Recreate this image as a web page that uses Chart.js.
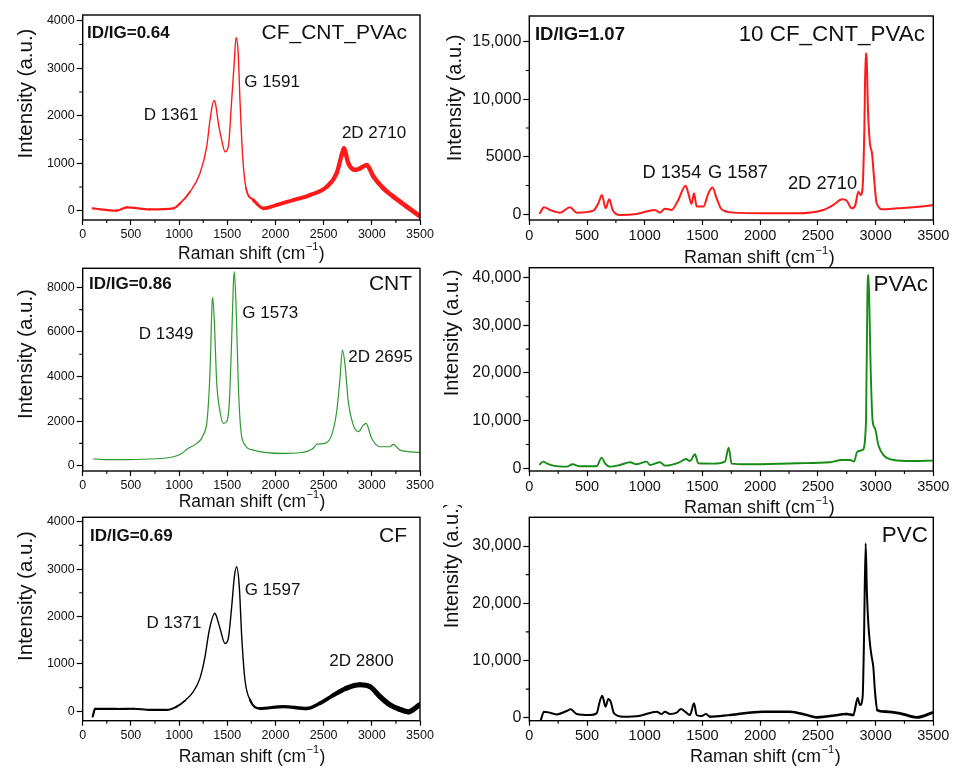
<!DOCTYPE html>
<html>
<head>
<meta charset="utf-8">
<script src="https://cdn.jsdelivr.net/npm/chart.js@4.4.0/dist/chart.umd.min.js"></script>
<style>
  html, body { margin: 0; padding: 0; background: #fff; }
  body { width: 960px; height: 769px; position: relative; overflow: hidden; }
  canvas { position: absolute; }
</style>
</head>
<body>
<canvas id="p1"></canvas>
<canvas id="p2"></canvas>
<canvas id="p3"></canvas>
<canvas id="p4"></canvas>
<canvas id="p5"></canvas>
<canvas id="p6"></canvas>
<script>
// Raman shift ticks, shared by every panel
const xTicks = [0, 500, 1000, 1500, 2000, 2500, 3000, 3500];
const xMinorTicks = [250, 750, 1250, 1750, 2250, 2750, 3250];

// intensity ticks
const ticks4k = [0, 1000, 2000, 3000, 4000];
const minor4k = [500, 1500, 2500, 3500];
const ticks15k = [0, 5000, 10000, 15000];
const minor15k = [2500, 7500, 12500];
const ticks8k = [0, 2000, 4000, 6000, 8000];
const minor8k = [1000, 3000, 5000, 7000];
const ticks40k = [0, 10000, 20000, 30000, 40000];
const minor40k = [5000, 15000, 25000, 35000];
const ticks30k = [0, 10000, 20000, 30000];
const minor30k = [5000, 15000, 25000];

// CF_CNT_PVAc
const cfCntPvacShift = [104, 353, 457, 699, 941, 1010, 1114, 1217, 1287, 1321, 1361, 1378, 1408, 1442, 1477, 1511, 1546, 1574, 1591, 1612, 1632, 1660, 1695, 1771, 1875, 2013, 2186, 2359, 2532, 2635, 2687, 2710, 2756, 2826, 2877, 2947, 3016, 3120, 3223, 3362, 3495];
const cfCntPvacIntensity = [50, 0, 70, 30, 50, 155, 400, 790, 1350, 1910, 2320, 2250, 1840, 1490, 1240, 1350, 2330, 3170, 3650, 3380, 2330, 1140, 470, 225, 50, 120, 225, 330, 505, 790, 1170, 1310, 1000, 860, 890, 960, 720, 470, 295, 85, -110];

// 10 CF_CNT_PVAc
const cf10Shift = [92, 127, 179, 266, 352, 410, 555, 598, 630, 661, 693, 722, 786, 930, 1089, 1132, 1175, 1233, 1291, 1354, 1378, 1406, 1427, 1450, 1508, 1551, 1587, 1623, 1666, 1767, 2027, 2316, 2547, 2634, 2710, 2749, 2793, 2822, 2851, 2871, 2888, 2902, 2914, 2923, 2934, 2951, 2969, 2986, 3009, 3067, 3183, 3327, 3494];
const cf10Intensity = [90, 610, 380, 145, 610, 145, 320, 960, 1680, 520, 1300, 380, -60, 30, 380, 145, 490, 380, 1250, 2490, 1820, 900, 1820, 670, 670, 1820, 2320, 1390, 430, 145, 90, 90, 380, 810, 1300, 1190, 520, 720, 1970, 1680, 2400, 7040, 13990, 13400, 9070, 6170, 5300, 3270, 960, 430, 520, 610, 780];

// CNT
const cntShift = [111, 353, 699, 941, 1027, 1096, 1183, 1252, 1293, 1321, 1342, 1349, 1366, 1390, 1425, 1459, 1494, 1522, 1546, 1563, 1573, 1591, 1615, 1639, 1684, 1771, 2082, 2255, 2393, 2428, 2514, 2584, 2635, 2670, 2695, 2722, 2756, 2808, 2860, 2912, 2940, 2998, 3085, 3189, 3223, 3292, 3493];
const cntIntensity = [300, 270, 300, 400, 550, 780, 1000, 1380, 2120, 4220, 7210, 7550, 6460, 3770, 2420, 1900, 1970, 2870, 5710, 8100, 8700, 7210, 3620, 1680, 930, 700, 550, 580, 780, 960, 1000, 1380, 2420, 3920, 5200, 4520, 2870, 1820, 1530, 1820, 1900, 1230, 850, 850, 960, 700, 600];

// PVAc
const pvacShift = [92, 121, 150, 208, 323, 375, 439, 583, 627, 656, 699, 786, 872, 930, 1017, 1045, 1132, 1175, 1300, 1357, 1392, 1435, 1464, 1594, 1695, 1727, 1753, 1883, 2316, 2605, 2706, 2778, 2813, 2842, 2888, 2917, 2929, 2938, 2946, 2958, 2975, 2995, 3024, 3067, 3154, 3327, 3494];
const pvacIntensity = [840, 1400, 1050, 560, 350, 840, 420, 420, 2240, 1050, 350, 700, 1260, 840, 1400, 700, 1260, 560, 1260, 1960, 1540, 2940, 1050, 980, 1400, 4340, 980, 840, 1050, 1260, 1750, 1750, 1400, 3500, 3850, 9790, 36360, 40560, 34270, 20280, 9790, 8390, 4900, 2800, 1750, 1540, 1610];

// CF
const cfShift = [104, 128, 353, 526, 699, 872, 975, 1062, 1148, 1217, 1269, 1314, 1371, 1383, 1425, 1477, 1511, 1546, 1574, 1597, 1625, 1650, 1684, 1736, 1840, 2082, 2324, 2462, 2601, 2739, 2877, 2981, 3085, 3189, 3292, 3379, 3493];
const cfIntensity = [-110, 50, 50, 55, 30, 30, 100, 225, 415, 700, 1150, 1720, 2070, 2030, 1750, 1430, 1540, 2210, 2840, 3050, 2630, 1580, 660, 240, 60, 100, 60, 170, 340, 490, 560, 520, 310, 135, 40, -10, 135];

// PVC
const pvcShift = [100, 127, 165, 237, 323, 358, 410, 526, 583, 612, 632, 661, 684, 705, 734, 814, 959, 1103, 1147, 1175, 1219, 1277, 1314, 1349, 1392, 1427, 1450, 1493, 1531, 1565, 1739, 2027, 2258, 2403, 2489, 2605, 2749, 2807, 2845, 2865, 2888, 2899, 2914, 2925, 2937, 2951, 2966, 2980, 2995, 3015, 3082, 3211, 3356, 3494];
const pvcIntensity = [-400, 1050, 930, 580, 1170, 1460, 640, 470, 760, 2970, 3850, 1920, 3260, 2800, 760, 180, 350, 1050, 640, 1050, 640, 870, 1520, 1050, 470, 2510, 470, 290, 640, 180, 470, 1050, 1050, 470, 60, 290, 640, 470, 3380, 2210, 3670, 12990, 30470, 21730, 16490, 12990, 10660, 8910, 4540, 1340, 1050, 760, 60, 870];

const FONT = "'Liberation Sans', Arial, Helvetica, sans-serif";

// text sizes and axis box sizes for the narrow (left) and wide (right) columns
const sizes = {
  left: { yTick: 12.5, xTick: 12.5, peak: 17, ratio: 17, name: 21, yTitle: 20.5, xTitle: 17.5, yAxisW: 45 },
  right: { yTick: 16, xTick: 14.5, peak: 18.3, ratio: 18.5, name: 22.4, yTitle: 20, xTitle: 18, yAxisW: 76 },
};
const X_H = 30;

const withCommas = (v) => (v >= 10000 ? String(v).replace(/\B(?=(\d{3})+(?!\d))/g, ",") : String(v));

// noise: [shift, line width] anchors, the noisy spectra get a thicker trace
const panels = [
  {
    id: "p1", col: "left", rect: [0, 0, 450, 270], area: [82.7, 15, 420, 220],
    shift: cfCntPvacShift, intensity: cfCntPvacIntensity, color: "#ff1a1a", width: 1.4,
    noise: [[0, 2.3], [1000, 2.2], [1150, 1.4], [1700, 1.4], [1850, 3.6], [2500, 4.2], [3500, 4.8]],
    yMin: -196, yMax: 4121, yTicks: ticks4k, yMinor: minor4k,
    yTitle: [-56.7, 78.5], xTitle: [0, 34],
    labels: [
      { text: "ID/IG=0.64", x: 45, y: 3740, kind: "ratio", align: "left" },
      { text: "CF_CNT_PVAc", x: 3365, y: 3740, kind: "name", align: "right" },
      { text: "D 1361", x: 917, y: 2015, kind: "peak", align: "center" },
      { text: "G 1591", x: 1965, y: 2710, kind: "peak", align: "center" },
      { text: "2D 2710", x: 3023, y: 1636, kind: "peak", align: "center" },
    ],
  },
  {
    id: "p2", col: "right", rect: [440, 0, 520, 270], area: [529.3, 16, 933.3, 220],
    shift: cf10Shift, intensity: cf10Intensity, color: "#ff1a1a", width: 2,
    noise: [],
    yMin: -496, yMax: 17235, yTicks: ticks15k, yMinor: minor15k,
    yTitle: [-74.3, 82], xTitle: [28, 38],
    labels: [
      { text: "ID/IG=1.07", x: 49, y: 15580, kind: "ratio", align: "left" },
      { text: "10 CF_CNT_PVAc", x: 3427, y: 15580, kind: "name", align: "right" },
      { text: "D 1354", x: 1235, y: 3615, kind: "peak", align: "center" },
      { text: "G 1587", x: 1808, y: 3615, kind: "peak", align: "center" },
      { text: "2D 2710", x: 2540, y: 2633, kind: "peak", align: "center" },
    ],
  },
  {
    id: "p3", col: "left", rect: [0, 255, 450, 262], area: [82.7, 268.3, 420, 471],
    shift: cntShift, intensity: cntIntensity, color: "#2e9a2e", width: 1.2,
    noise: [],
    yMin: -238, yMax: 8852, yTicks: ticks8k, yMinor: minor8k,
    yTitle: [-56.7, 85.7], xTitle: [0.6, 31],
    labels: [
      { text: "ID/IG=0.86", x: 65, y: 8134, kind: "ratio", align: "left" },
      { text: "CNT", x: 3418, y: 8134, kind: "name", align: "right" },
      { text: "D 1349", x: 866, y: 5905, kind: "peak", align: "center" },
      { text: "G 1573", x: 1946, y: 6834, kind: "peak", align: "center" },
      { text: "2D 2695", x: 3090, y: 4861, kind: "peak", align: "center" },
    ],
  },
  {
    id: "p4", col: "right", rect: [440, 255, 520, 262], area: [529.3, 267.7, 933.3, 471],
    shift: pvacShift, intensity: pvacIntensity, color: "#158c15", width: 1.9,
    noise: [],
    yMin: -570, yMax: 42100, yTicks: ticks40k, yMinor: minor40k,
    yTitle: [-77.3, 65.3], xTitle: [28, 37],
    labels: [
      { text: "PVAc", x: 3453, y: 38470, kind: "name", align: "right" },
    ],
  },
  {
    id: "p5", col: "left", rect: [0, 505, 450, 264], area: [82.7, 517.3, 420, 720.7],
    shift: cfShift, intensity: cfIntensity, color: "#000000", width: 1.4,
    noise: [[0, 2.2], [1000, 2], [1100, 1.4], [1720, 1.4], [1850, 3], [2500, 3.6], [2800, 5], [3500, 5.2]],
    yMin: -198, yMax: 4093, yTicks: ticks4k, yMinor: minor4k,
    yTitle: [-56.7, 78.7], xTitle: [0.6, 36.3],
    labels: [
      { text: "ID/IG=0.69", x: 76, y: 3699, kind: "ratio", align: "left" },
      { text: "CF", x: 3365, y: 3699, kind: "name", align: "right" },
      { text: "D 1371", x: 947, y: 1857, kind: "peak", align: "center" },
      { text: "G 1597", x: 1970, y: 2559, kind: "peak", align: "center" },
      { text: "2D 2800", x: 2893, y: 1047, kind: "peak", align: "center" },
    ],
  },
  {
    id: "p6", col: "right", rect: [440, 505, 520, 264], area: [529.3, 517.3, 933.3, 720.7],
    shift: pvcShift, intensity: pvcIntensity, color: "#000000", width: 2,
    noise: [[0, 2], [1600, 2], [1750, 2.6], [2750, 2.6], [2850, 2], [3000, 2], [3060, 2.8], [3500, 2.8]],
    yMin: -525, yMax: 35017, yTicks: ticks30k, yMinor: minor30k,
    yTitle: [-77.3, 47.7], xTitle: [34, 36.3],
    labels: [
      { text: "PVC", x: 3453, y: 31760, kind: "name", align: "right" },
    ],
  },
];

// frame box, minor ticks, axis titles and in-plot text
const framePlugin = {
  id: "frame",
  afterDraw(chart, args, opts) {
    const { ctx, chartArea: a, scales } = chart;
    const p = opts.panel;
    const s = sizes[p.col];
    ctx.save();

    ctx.strokeStyle = "#000";
    ctx.lineWidth = 1.4;
    ctx.strokeRect(a.left, a.top, a.right - a.left, a.bottom - a.top);

    ctx.lineWidth = 1.1;
    ctx.beginPath();
    xMinorTicks.forEach((v) => {
      const px = scales.x.getPixelForValue(v);
      ctx.moveTo(px, a.bottom);
      ctx.lineTo(px, a.bottom + 3);
    });
    p.yMinor.forEach((v) => {
      const py = scales.y.getPixelForValue(v);
      ctx.moveTo(a.left, py);
      ctx.lineTo(a.left - 3.5, py);
    });
    ctx.stroke();

    ctx.fillStyle = "#111";
    ctx.textBaseline = "middle";
    p.labels.forEach((l) => {
      const bold = l.kind === "ratio" ? "bold " : "";
      ctx.font = `${bold}${s[l.kind]}px ${FONT}`;
      ctx.textAlign = l.align;
      ctx.fillText(l.text, scales.x.getPixelForValue(l.x), scales.y.getPixelForValue(l.y));
    });

    // y title
    ctx.save();
    ctx.translate(a.left + p.yTitle[0], a.top + p.yTitle[1]);
    ctx.rotate(-Math.PI / 2);
    ctx.textAlign = "center";
    ctx.font = `${s.yTitle}px ${FONT}`;
    ctx.fillText("Intensity (a.u.)", 0, 0);
    ctx.restore();

    // x title with superscript
    const f = s.xTitle;
    const main = "Raman shift (cm";
    const sup = "\u22121";
    ctx.textAlign = "left";
    ctx.font = `${f}px ${FONT}`;
    const w1 = ctx.measureText(main).width;
    const w3 = ctx.measureText(")").width;
    ctx.font = `${f * 0.62}px ${FONT}`;
    const w2 = ctx.measureText(sup).width + 1;
    const cx = (a.left + a.right) / 2 + p.xTitle[0];
    const cy = a.bottom + p.xTitle[1];
    const x0 = cx - (w1 + w2 + w3) / 2;
    ctx.font = `${f}px ${FONT}`;
    ctx.fillText(main, x0, cy);
    ctx.font = `${f * 0.62}px ${FONT}`;
    ctx.fillText(sup, x0 + w1 + 0.5, cy - f * 0.4);
    ctx.font = `${f}px ${FONT}`;
    ctx.fillText(")", x0 + w1 + w2, cy);

    ctx.restore();
  },
};

// line width along the spectrum, interpolated between the noise anchors
const widthAt = (noise, x, base) => {
  if (!noise.length) return base;
  for (let i = 1; i < noise.length; i++) {
    const [x0, w0] = noise[i - 1];
    const [x1, w1] = noise[i];
    if (x <= x1) return w0 + (w1 - w0) * Math.max(0, (x - x0) / (x1 - x0));
  }
  return noise[noise.length - 1][1];
};

panels.forEach((p) => {
  const canvas = document.getElementById(p.id);
  const [rx, ry, rw, rh] = p.rect;
  const [left, top, right, bottom] = p.area;
  const s = sizes[p.col];
  canvas.width = rw;
  canvas.height = rh;
  canvas.style.left = rx + "px";
  canvas.style.top = ry + "px";
  canvas.style.width = rw + "px";
  canvas.style.height = rh + "px";

  new Chart(canvas, {
    type: "line",
    data: {
      datasets: [
        {
          data: p.shift.map((x, i) => ({ x: x, y: p.intensity[i] })),
          borderColor: p.color,
          borderWidth: p.width,
          borderCapStyle: "round",
          borderJoinStyle: "round",
          pointRadius: 0,
          fill: false,
          cubicInterpolationMode: "monotone",
          segment: {
            borderWidth: (ctx) => widthAt(p.noise, (ctx.p0.parsed.x + ctx.p1.parsed.x) / 2, p.width),
          },
        },
      ],
    },
    options: {
      responsive: false,
      animation: false,
      events: [],
      layout: {
        padding: {
          left: left - rx - s.yAxisW,
          top: top - ry,
          right: rx + rw - right,
          bottom: ry + rh - bottom - X_H,
        },
      },
      plugins: {
        legend: { display: false },
        tooltip: { enabled: false },
        frame: { panel: p },
      },
      scales: {
        x: {
          type: "linear",
          min: 0,
          max: 3500,
          afterFit: (scale) => { scale.height = X_H; },
          afterBuildTicks: (scale) => { scale.ticks = xTicks.map((v) => ({ value: v })); },
          grid: { drawOnChartArea: false, drawTicks: true, tickLength: 5, tickColor: "#000", tickWidth: 1.2 },
          border: { display: false },
          ticks: { color: "#111", font: { family: FONT, size: s.xTick }, padding: 2, maxRotation: 0, autoSkip: false, callback: (v) => String(v) },
        },
        y: {
          type: "linear",
          min: p.yMin,
          max: p.yMax,
          afterFit: (scale) => { scale.width = s.yAxisW; },
          afterBuildTicks: (scale) => { scale.ticks = p.yTicks.map((v) => ({ value: v })); },
          grid: { drawOnChartArea: false, drawTicks: true, tickLength: 6, tickColor: "#000", tickWidth: 1.2 },
          border: { display: false },
          ticks: { color: "#111", font: { family: FONT, size: s.yTick }, padding: 2, autoSkip: false, callback: (v) => withCommas(v) },
        },
      },
    },
    plugins: [framePlugin],
  });
});
</script>
</body>
</html>
